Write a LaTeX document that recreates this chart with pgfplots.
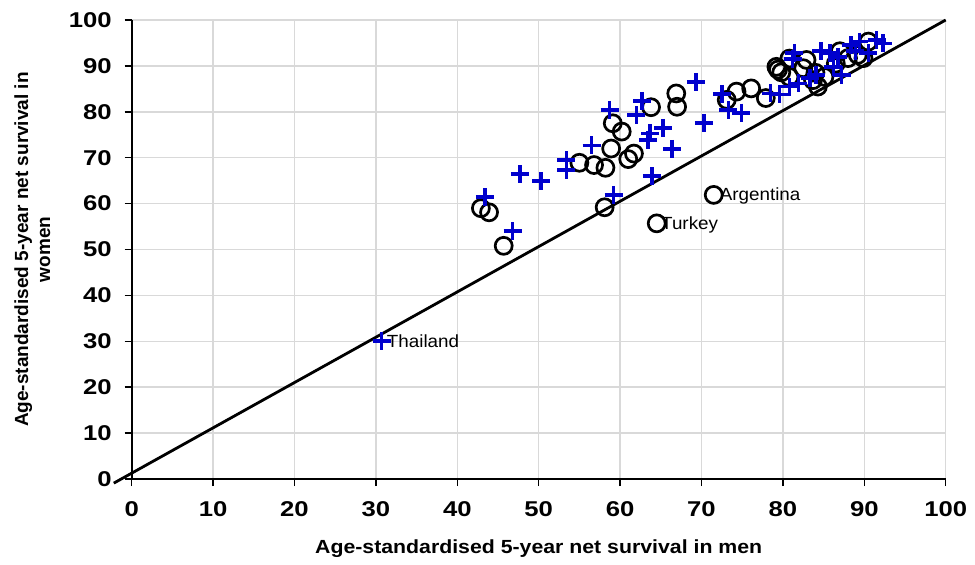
\documentclass[border=0pt]{standalone}
\usepackage{pgfplots}
\pgfplotsset{compat=1.18}
\usepackage{fontspec}
\setmainfont{Liberation Sans}
\newfontfamily\tickfont{Liberation Sans}[FakeStretch=1.2]
\newfontfamily\xlabfont{Liberation Sans}[FakeStretch=1.12]
\newfontfamily\annfont{Liberation Sans}[FakeStretch=1.07]
\definecolor{pblue}{RGB}{0,0,205}
\definecolor{gridc}{RGB}{217,217,217}
\begin{document}
\begin{tikzpicture}
\path[use as bounding box] (-65.85pt,-42.5pt) rectangle (421.65pt,239.5pt);
\begin{axis}[
  at={(0,0)}, anchor=south west,
  scale only axis, width=407pt, height=229.5pt,
  xmin=0, xmax=100, ymin=0, ymax=100,
  xtick={0,10,...,100}, ytick={0,10,...,100},
  axis x line=bottom, axis y line=left,
  axis line style={black, line width=0.9pt, -},
  grid=major, major grid style={gridc, line width=0.75pt},
  tick align=outside, major tick length=3.5pt,
  tick style={black, line width=0.75pt},
  tick label style={font=\tickfont\fontsize{10.7}{12}\selectfont\bfseries},
  /pgf/number format/assume math mode=true,
  xticklabel style={yshift=-4pt},
  yticklabel style={xshift=-3pt},
  xlabel={Age-standardised 5-year net survival in men},
  ylabel={Age-standardised 5-year net survival in\\women},
  xlabel style={font=\xlabfont\fontsize{9.5}{11}\selectfont\bfseries, at={(axis description cs:0.5,-0.152)}, anchor=center},
  ylabel style={font=\fontsize{9.5}{11}\selectfont\bfseries, at={(axis description cs:-0.122,0.5)}, anchor=center, align=center},
  clip=false,
]
\addplot[black, line width=1.4pt, no marks] coordinates {(-2.2,-0.9) (100,100)};
\addplot[only marks, mark=o, mark size=4.25pt, mark options={black, line width=1.35pt}] coordinates {
(42.9,59.0) (43.9,58.1) (45.7,50.8) (55.0,68.9) (56.8,68.4) (58.2,67.8) (58.1,59.2)
(58.9,72.0) (59.1,77.5) (60.2,75.7) (61.0,69.7) (61.7,70.9) (63.8,81.0) (66.9,84.0)
(67.0,81.1) (64.5,55.7) (71.5,61.9) (73.1,82.6) (74.3,84.4) (76.1,85.1) (77.9,83.0)
(79.2,89.8) (79.4,89.2) (79.8,88.6) (80.8,87.6) (80.8,91.6) (82.5,89.5) (82.9,91.3)
(83.7,86.9) (84.3,85.5) (85.1,87.6) (87.0,93.2) (88.0,91.7) (89.2,92.4) (89.9,91.7)
(90.5,95.3) (86.5,90.5) (84.0,88.5)
};
\addplot[only marks, mark=+, mark size=4.5pt, mark options={pblue, line width=1.8pt}] coordinates {
(30.7,30.1) (43.4,61.4) (46.8,54.0) (47.7,66.4) (50.3,64.9) (53.4,69.5) (53.4,67.3)
(56.5,72.7) (58.7,80.4) (59.2,61.9) (62.0,79.3) (62.7,82.4) (63.7,75.3) (63.4,73.9)
(63.9,66.0) (65.3,76.5) (66.4,71.9) (69.3,86.5) (70.3,77.5) (72.5,83.9) (73.3,80.4)
(74.9,79.8) (78.5,84.0) (79.6,83.8) (80.8,85.5) (81.9,86.2) (83.3,87.3) (84.1,88.0)
(81.2,91.5) (81.4,92.8) (84.7,93.2) (85.8,92.8) (86.8,92.0) (86.2,89.8) (87.2,88.0)
(88.4,94.5) (88.9,93.2) (89.4,95.3) (90.5,92.8) (91.5,95.6) (92.3,94.9)
};
\node[anchor=west, inner sep=0pt, font=\annfont\fontsize{8.8}{10}\selectfont] at (axis cs:31.3,30.0) {Thailand};
\node[anchor=west, inner sep=0pt, font=\annfont\fontsize{8.8}{10}\selectfont] at (axis cs:72.2,61.6) {Argentina};
\node[anchor=west, inner sep=0pt, font=\annfont\fontsize{8.8}{10}\selectfont] at (axis cs:65.0,55.3) {Turkey};
\end{axis}
\end{tikzpicture}
\end{document}
